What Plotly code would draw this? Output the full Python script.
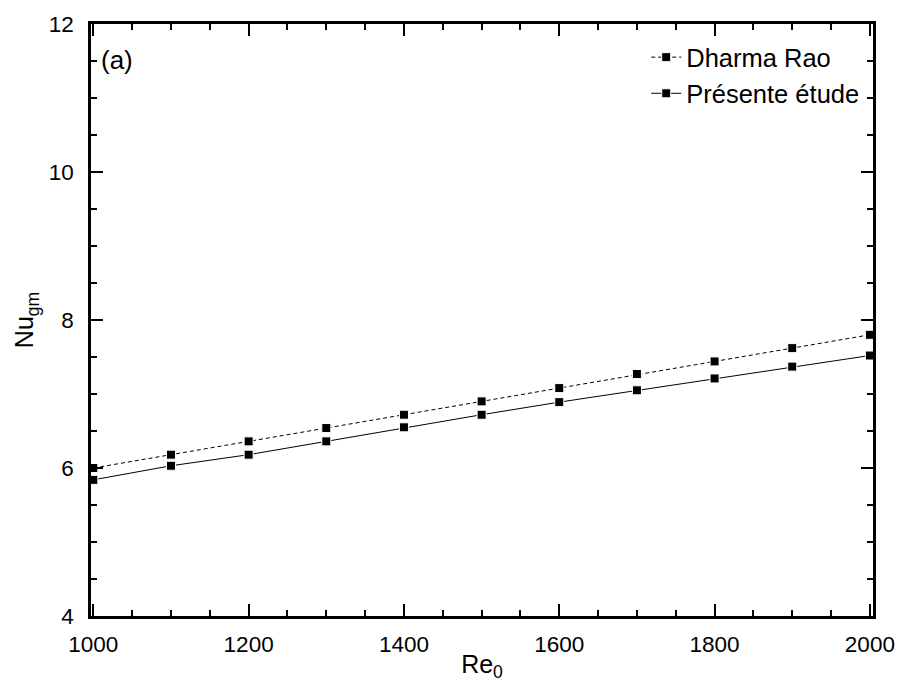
import plotly.graph_objects as go

re0 = [1000, 1100, 1200, 1300, 1400, 1500, 1600, 1700, 1800, 1900, 2000]
nu_dharma = [6.00, 6.18, 6.36, 6.54, 6.72, 6.90, 7.08, 7.27, 7.44, 7.62, 7.80]
nu_present = [5.84, 6.03, 6.18, 6.36, 6.55, 6.72, 6.89, 7.05, 7.21, 7.37, 7.52]

FONT = "Liberation Sans, Arial, sans-serif"
FS = 22.5
FS_TITLE = 25
FS_LEG = 25.5

fig = go.Figure()
fig.add_trace(go.Scatter(
    x=re0, y=nu_dharma, mode="lines+markers", name="Dharma Rao",
    line=dict(color="black", width=1, dash="4px,3px"),
    marker=dict(symbol="square", size=9, color="black", line=dict(color="white", width=1)),
))
fig.add_trace(go.Scatter(
    x=re0, y=nu_present, mode="lines+markers", name="Présente étude",
    line=dict(color="black", width=1),
    marker=dict(symbol="square", size=9, color="black", line=dict(color="white", width=1)),
))

axis_common = dict(
    showline=True, linecolor="black", linewidth=2.5, mirror="ticks",
    ticks="inside", ticklen=12, tickwidth=2, tickcolor="black",
    showgrid=False, zeroline=False,
    tickfont=dict(family=FONT, size=FS, color="black"),
)

fig.update_xaxes(
    range=[997, 2004], tick0=1000, dtick=200,
    minor=dict(dtick=50, ticks="inside", ticklen=6, tickwidth=2, tickcolor="black", showgrid=False),
    title=dict(text="Re<sub>0</sub>", font=dict(family=FONT, size=FS_TITLE, color="black"), standoff=0),
    ticklabelstandoff=6,
    **axis_common,
)
fig.update_yaxes(
    range=[4, 12], tick0=4, dtick=2,
    minor=dict(dtick=0.5, ticks="inside", ticklen=6, tickwidth=2, tickcolor="black", showgrid=False),
    title=dict(text="Nu<sub>gm</sub>", font=dict(family=FONT, size=FS_TITLE, color="black"), standoff=8),
    ticklabelstandoff=10,
    **axis_common,
)

fig.add_annotation(
    x=0.010, y=0.94, xref="paper", yref="paper", xanchor="left", yanchor="middle",
    text="(a)", showarrow=False, font=dict(family=FONT, size=26, color="black"),
)

fig.update_layout(
    width=907, height=686,
    margin=dict(l=91, r=26, t=19, b=69),
    paper_bgcolor="white", plot_bgcolor="white",
    font=dict(family=FONT, size=FS, color="black"),
    showlegend=True,
    legend=dict(
        x=0.710, y=0.983, xanchor="left", yanchor="top",
        bgcolor="rgba(0,0,0,0)", borderwidth=0,
        font=dict(family=FONT, size=FS_LEG, color="black"),
        tracegroupgap=0,
    ),
)

fig.write_html("out.html", post_script="document.body.style.margin='0';",
               config={"displayModeBar": False})
